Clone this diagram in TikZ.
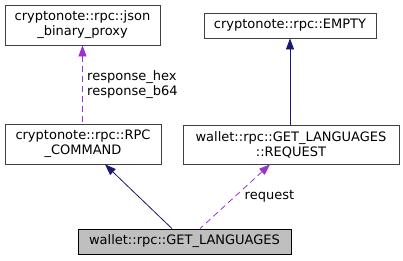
\documentclass[tikz,border=0pt]{standalone}
\usepackage{fontspec}
\setmainfont{DejaVu Sans}
\usetikzlibrary{positioning, arrows.meta}
\definecolor{edgeblue}{HTML}{191970}
\definecolor{edgepurple}{HTML}{9A32CD}
\definecolor{boxgray}{HTML}{BFBFBF}
\definecolor{boxline}{HTML}{404040}

\begin{document}
\begin{tikzpicture}[x=1pt, y=-1pt, font=\fontsize{13}{15}\selectfont]
    \tikzstyle{cls} = [rectangle, draw=boxline, line width=0.8pt, inner sep=0pt, align=center, fill=white]
    \tikzstyle{current} = [cls, draw=black, fill=boxgray]
    \tikzstyle{inherit} = [line width=0.8pt, draw=edgeblue, <-, >={Triangle[length=11pt, width=8pt]}]
    \tikzstyle{member} = [line width=0.8pt, draw=edgepurple, dash pattern=on 6pt off 4pt, <-, >={Triangle[length=11pt, width=8pt]}]

    \useasboundingbox (0,0) rectangle (403,260);

    \node (json) [cls, minimum width=155pt, minimum height=40pt] at (82.5,25) {cryptonote::rpc::json\\\_binary\_proxy};
    \node (empty) [cls, minimum width=172pt, minimum height=25pt] at (290,25.5) {cryptonote::rpc::EMPTY};
    \node (rpc) [cls, minimum width=156pt, minimum height=40pt] at (83,144) {cryptonote::rpc::RPC\\\_COMMAND};
    \node (req) [cls, minimum width=216pt, minimum height=39pt] at (291,144.5) {wallet::rpc::GET\_LANGUAGES\\::REQUEST};
    \node (cur) [current, minimum width=213pt, minimum height=25pt] at (184.5,241.5) {wallet::rpc::GET\_LANGUAGES};

    \draw [member] (json.south) -- (json.south |- rpc.north)
        node [midway, right=1pt, align=left] {response\_hex\\response\_b64};
    \draw [inherit] (empty.south) -- (empty.south |- req.north);
    \draw [inherit] ([xshift=22pt]rpc.south) -- ([xshift=-12.5pt]cur.north);
    \draw [member] ([xshift=-21pt]req.south) -- ([xshift=15.5pt]cur.north)
        node [midway, right=6pt] {request};
\end{tikzpicture}
\end{document}
